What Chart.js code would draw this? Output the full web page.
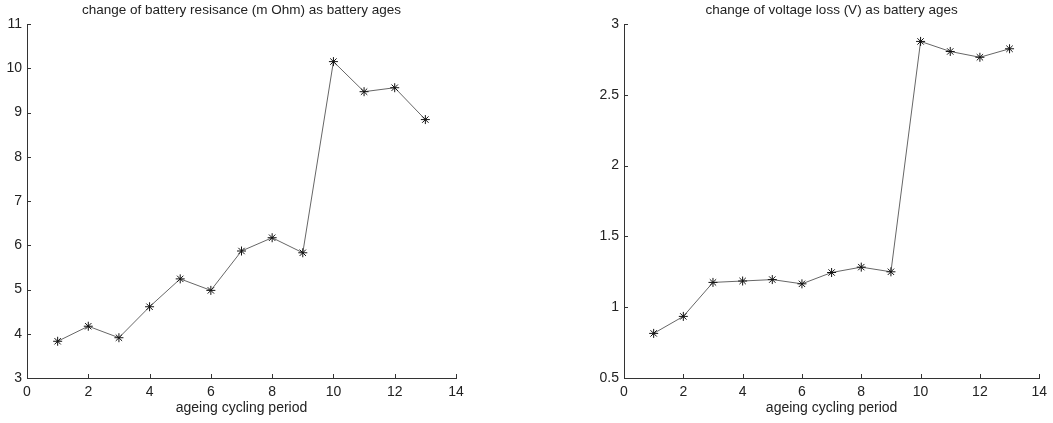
<!DOCTYPE html>
<html>
<head>
<meta charset="utf-8">
<script src="https://cdn.jsdelivr.net/npm/chart.js@4/dist/chart.umd.min.js"></script>
<style>
  body { margin: 0; background: #fff; }
  .box { position: absolute; top: 0; height: 423px; }
  #left-box { left: 0; width: 470px; }
  #right-box { left: 580px; width: 473px; }
</style>
</head>
<body>
<div class="box" id="left-box"><canvas id="left-chart"></canvas></div>
<div class="box" id="right-box"><canvas id="right-chart"></canvas></div>
<script>
// --- data ---
const cycles = [1, 2, 3, 4, 5, 6, 7, 8, 9, 10, 11, 12, 13];
const resistance = [3.83, 4.17, 3.91, 4.61, 5.24, 4.98, 5.87, 6.17, 5.83, 10.15, 9.47, 9.56, 8.84];
const voltageLoss = [0.815, 0.935, 1.175, 1.185, 1.195, 1.165, 1.245, 1.283, 1.25, 2.877, 2.806, 2.765, 2.825];

const xTicks = [0, 2, 4, 6, 8, 10, 12, 14];
const leftYTicks = [3, 4, 5, 6, 7, 8, 9, 10, 11];
const rightYTicks = [0.5, 1, 1.5, 2, 2.5, 3];

const leftTitle = 'change of battery resisance (m Ohm) as battery ages';
const rightTitle = 'change of voltage loss (V) as battery ages';
const xTitle = 'ageing cycling period';

const FONT = 'Liberation Sans, Arial, Helvetica, sans-serif';
const AXIS = '#333';

// inward tick marks, like matlab
const innerTicks = {
    id: 'innerTicks',
    afterDraw(chart) {
        const ctx = chart.ctx;
        const area = chart.chartArea;
        ctx.save();
        ctx.strokeStyle = AXIS;
        ctx.lineWidth = 1;
        const xs = chart.scales.x;
        xs.ticks.forEach(t => {
            const px = Math.round(xs.getPixelForValue(t.value)) + 0.5;
            ctx.beginPath();
            ctx.moveTo(px, area.bottom);
            ctx.lineTo(px, area.bottom - 4);
            ctx.stroke();
        });
        const ys = chart.scales.y;
        ys.ticks.forEach(t => {
            const py = Math.round(ys.getPixelForValue(t.value)) + 0.5;
            ctx.beginPath();
            ctx.moveTo(area.left, py);
            ctx.lineTo(area.left + 4, py);
            ctx.stroke();
        });
        ctx.restore();
    }
};

function makeChart(id, title, values, yTicks, yWidth, padRight) {
    const points = cycles.map((c, i) => ({ x: c, y: values[i] }));
    return new Chart(document.getElementById(id), {
        type: 'scatter',
        data: {
            datasets: [{
                data: points,
                showLine: true,
                borderColor: '#666',
                borderWidth: 1,
                pointStyle: 'star',
                pointRadius: 4.5,
                pointBorderColor: '#111',
                pointBorderWidth: 1,
                pointBackgroundColor: 'transparent'
            }]
        },
        options: {
            responsive: true,
            maintainAspectRatio: false,
            animation: false,
            layout: { padding: { right: padRight, bottom: 0, left: 0, top: 0 } },
            plugins: {
                legend: { display: false },
                tooltip: { enabled: false },
                title: {
                    display: true,
                    text: title,
                    fullSize: false,
                    color: '#222',
                    font: { family: FONT, size: 13.5, weight: 'normal', lineHeight: 1.2 },
                    padding: { top: 2, bottom: 5.8 }
                }
            },
            scales: {
                x: {
                    type: 'linear',
                    min: xTicks[0],
                    max: xTicks[xTicks.length - 1],
                    afterBuildTicks: s => { s.ticks = xTicks.map(v => ({ value: v })); },
                    afterFit: s => { s.height = 45; },
                    grid: { display: false, drawTicks: false },
                    border: { display: true, color: AXIS, width: 1 },
                    ticks: { color: '#222', padding: 6, maxRotation: 0, font: { family: FONT, size: 14 } },
                    title: {
                        display: true,
                        text: xTitle,
                        color: '#222',
                        font: { family: FONT, size: 14, lineHeight: 1.2 },
                        padding: { top: 0, bottom: 6 }
                    }
                },
                y: {
                    type: 'linear',
                    min: yTicks[0],
                    max: yTicks[yTicks.length - 1],
                    afterBuildTicks: s => { s.ticks = yTicks.map(v => ({ value: v })); },
                    afterFit: s => { s.width = yWidth; },
                    grid: { display: false, drawTicks: false },
                    border: { display: true, color: AXIS, width: 1 },
                    ticks: {
                        color: '#222',
                        padding: 5,
                        font: { family: FONT, size: 14 },
                        callback: v => String(v)
                    }
                }
            }
        },
        plugins: [innerTicks]
    });
}

makeChart('left-chart', leftTitle, resistance, leftYTicks, 27, 14);
makeChart('right-chart', rightTitle, voltageLoss, rightYTicks, 44, 9);
</script>
</body>
</html>
